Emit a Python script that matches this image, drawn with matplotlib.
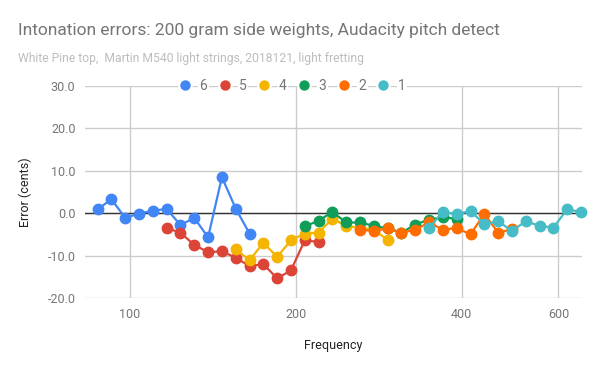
import matplotlib
matplotlib.use("Agg")
import matplotlib.pyplot as plt
from matplotlib.lines import Line2D
from matplotlib.ticker import FixedLocator, FixedFormatter, NullLocator

plt.rcParams['font.family'] = ['Roboto', 'DejaVu Sans']

# fret frequencies (Hz), frets 1-12 of each string
freq_6 = [87.31, 92.50, 98.00, 103.83, 110.00, 116.54, 123.47, 130.81, 138.59, 146.83, 155.56, 164.81]
freq_5 = [116.54, 123.47, 130.81, 138.59, 146.83, 155.56, 164.81, 174.61, 185.00, 196.00, 207.65, 220.00]
freq_4 = [155.56, 164.81, 174.61, 185.00, 196.00, 207.65, 220.00, 233.08, 246.94, 261.63, 277.18, 293.66]
freq_3 = [207.65, 220.00, 233.08, 246.94, 261.63, 277.18, 293.66, 311.13, 329.63, 349.23, 369.99, 392.00]
freq_2 = [261.63, 277.18, 293.66, 311.13, 329.63, 349.23, 369.99, 392.00, 415.30, 440.00, 466.16, 493.88]
freq_1 = [349.23, 369.99, 392.00, 415.30, 440.00, 466.16, 493.88, 523.25, 554.37, 587.33, 622.25, 659.26]

# intonation error (cents)
err_6 = [0.9, 3.3, -1.1, -0.1, 0.6, 1.0, -2.8, -1.1, -5.7, 8.5, 1.1, -4.8]
err_5 = [-3.5, -4.6, -7.5, -9.2, -9.0, -10.5, -12.5, -12.0, -15.4, -13.5, -6.4, -6.8]
err_4 = [-8.5, -11.1, -7.0, -10.3, -6.4, -4.8, -4.6, -1.3, -3.0, -3.5, -3.8, -6.4]
err_3 = [-3.1, -1.8, 0.3, -2.2, -2.2, -3.0, -3.6, -4.6, -2.7, -1.5, -1.0, -1.3]
err_2 = [-3.9, -4.2, -3.6, -4.6, -3.9, -2.2, -3.9, -3.5, -5.0, -0.2, -4.6, -3.8]
err_1 = [-3.5, 0.3, -0.2, 0.5, -2.6, -1.9, -4.2, -1.9, -3.0, -3.4, 0.9, 0.3]

strings = ["6", "5", "4", "3", "2", "1"]
freqs = [freq_6, freq_5, freq_4, freq_3, freq_2, freq_1]
errs = [err_6, err_5, err_4, err_3, err_2, err_1]
colors = ["#4285F4", "#DB4437", "#F4B400", "#0F9D58", "#FF6D00", "#46BDC6"]

fig = plt.figure(figsize=(6, 3.71), dpi=100)
ax = fig.add_axes([0.142, 0.197, 0.828, 0.571])

for name, f, e, c in zip(strings, freqs, errs, colors):
    ax.plot(f, e, color=c, lw=1.6, marker='o', ms=7.5, label=name, clip_on=False, zorder=3)

ax.set_xscale('log')
ax.set_xlim(82.9, 662)
ax.set_ylim(-20, 30)
ax.xaxis.set_major_locator(FixedLocator([100, 200, 400, 600]))
ax.xaxis.set_major_formatter(FixedFormatter(["100", "200", "400", "600"]))
ax.xaxis.set_minor_locator(NullLocator())
ax.set_yticks([-20, -10, 0, 10, 20, 30])
ax.set_yticklabels(["-20.0", "-10.0", "0.0", "10.0", "20.0", "30.0"])

ax.grid(True, color="#cccccc", lw=1)
ax.set_axisbelow(True)
ax.axhline(0, color="#333333", lw=1, zorder=2)
for s in ax.spines.values():
    s.set_visible(False)
ax.tick_params(length=0, labelsize=9, colors="#757575", pad=7)

ax.set_xlabel("Frequency", fontsize=9, color="#222222", labelpad=13)
ax.set_ylabel("Error (cents)", fontsize=9, color="#222222", labelpad=11)

fig.text(0.03, 0.918, "Intonation errors: 200 gram side weights, Audacity pitch detect",
         fontsize=12.5, color="#757575", va='center')
fig.text(0.03, 0.843, "White Pine top,  Martin M540 light strings, 2018121, light fretting",
         fontsize=8.7, color="#bdbdbd", va='center')

handles = [Line2D([], [], ls='none', marker='o', ms=9, color=c, mec='white', mew=1.5) for c in colors]
leg = ax.legend(handles, strings, loc='center', bbox_to_anchor=(0.416, 1.0), ncol=6,
                frameon=False, fontsize=10, handletextpad=0.55, columnspacing=0.75,
                handlelength=1.0, borderaxespad=0)
for t in leg.get_texts():
    t.set_color("#757575")
    t.set_bbox(dict(facecolor='white', edgecolor='none', pad=1))

fig.savefig("out.png", dpi=100)
